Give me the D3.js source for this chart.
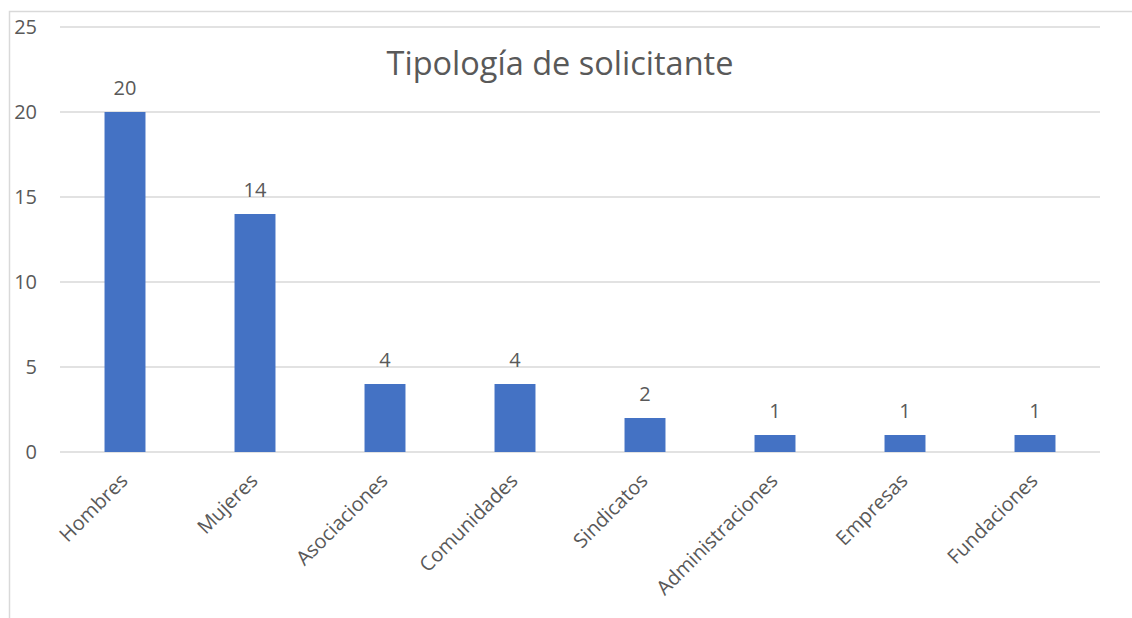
<!DOCTYPE html>
<head>
  <meta charset="utf-8">
  <script src="https://d3js.org/d3.v7.min.js"></script>
  <style>
    body { margin:0; background:#fff; }
    svg { display:block; }
    text { font-family: "Open Sans", "Noto Sans", sans-serif; fill:#595959; }
  </style>
</head>
<body>
<script>
  var categories = ["Hombres", "Mujeres", "Asociaciones", "Comunidades", "Sindicatos",
                    "Administraciones", "Empresas", "Fundaciones"];
  var values = [20, 14, 4, 4, 2, 1, 1, 1];
  var yTicks = [0, 5, 10, 15, 20, 25];
  var title = "Tipología de solicitante";

  var width = 1132, height = 618;
  var svg = d3.select("body").append("svg")
      .attr("width", width).attr("height", height);

  // chart area frame (top and left edges visible)
  svg.append("path")
     .attr("d", "M9.5," + height + "V11.5H" + width)
     .attr("fill", "none")
     .attr("stroke", "#d9d9d9")
     .attr("stroke-width", 1.5);

  var x = d3.scaleBand()
      .domain(categories)
      .range([60, 1100])
      .paddingInner(0.685)
      .paddingOuter(0.3425);

  var y = d3.scaleLinear()
      .domain([0, 25])
      .range([452, 27]);

  // gridlines
  svg.selectAll(".grid")
     .data(yTicks)
     .enter().append("line")
     .attr("class", "grid")
     .attr("x1", 60).attr("x2", 1100)
     .attr("y1", function(d) { return y(d); })
     .attr("y2", function(d) { return y(d); })
     .attr("stroke", "#d9d9d9")
     .attr("stroke-width", 1.5);

  // y tick labels
  svg.selectAll(".ytick")
     .data(yTicks)
     .enter().append("text")
     .attr("class", "ytick")
     .attr("x", 37)
     .attr("y", function(d) { return y(d); })
     .attr("dy", "0.36em")
     .attr("text-anchor", "end")
     .style("font-size", "20px")
     .text(function(d) { return d; });

  // bars
  svg.selectAll(".bar")
     .data(values)
     .enter().append("rect")
     .attr("class", "bar")
     .attr("x", function(d, i) { return x(categories[i]); })
     .attr("width", x.bandwidth())
     .attr("y", function(d) { return y(d); })
     .attr("height", function(d) { return y(0) - y(d); })
     .attr("fill", "#4472c4");

  // value labels
  svg.selectAll(".val")
     .data(values)
     .enter().append("text")
     .attr("class", "val")
     .attr("x", function(d, i) { return x(categories[i]) + x.bandwidth() / 2; })
     .attr("y", function(d) { return y(d) - 17; })
     .attr("text-anchor", "middle")
     .style("font-size", "20px")
     .text(function(d) { return d; });

  // category labels, rotated
  svg.selectAll(".cat")
     .data(categories)
     .enter().append("text")
     .attr("class", "cat")
     .attr("text-anchor", "end")
     .attr("transform", function(d) {
        var cx = x(d) + x.bandwidth() / 2 + 4;
        return "translate(" + cx + ",482) rotate(-45)";
     })
     .style("font-size", "20px")
     .text(function(d) { return d; });

  // title
  svg.append("text")
     .attr("x", 560)
     .attr("y", 75)
     .attr("text-anchor", "middle")
     .style("font-size", "32.5px")
     .text(title);
</script>
</body>
